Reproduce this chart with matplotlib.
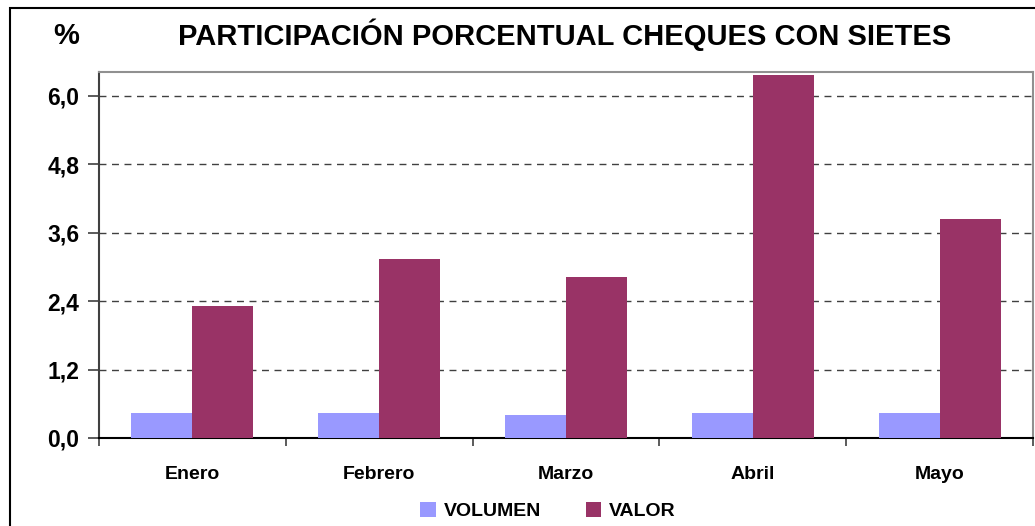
import matplotlib
matplotlib.use("Agg")
import matplotlib.pyplot as plt
import numpy as np
from matplotlib.patches import Rectangle

months = ["Enero", "Febrero", "Marzo", "Abril", "Mayo"]
volumen = [0.44, 0.44, 0.40, 0.44, 0.44]
valor = [2.32, 3.14, 2.83, 6.37, 3.85]
yticks = [0.0, 1.2, 2.4, 3.6, 4.8, 6.0]
ytick_labels = ["0,0", "1,2", "2,4", "3,6", "4,8", "6,0"]

plt.rcParams['font.family'] = ['Liberation Sans', 'DejaVu Sans']

W, H = 1035, 526
fig = plt.figure(figsize=(W / 100, H / 100), dpi=100)
fig.patch.set_facecolor("white")

# outer chart border (cut off on right and bottom)
fig.add_artist(Rectangle((10 / W, -0.1), 1.2, (H - 8) / H + 0.1, transform=fig.transFigure,
                         fill=False, edgecolor="black", linewidth=1.5))

left, right, top, bottom = 99, 1033, 72, 438
ax = fig.add_axes([left / W, (H - bottom) / H, (right - left) / W, (bottom - top) / H])

x = np.arange(len(months))
bw = 0.327
ax.bar(x - bw / 2, volumen, width=bw, color="#9999FF", label="VOLUMEN", zorder=3)
ax.bar(x + bw / 2, valor, width=bw, color="#993366", label="VALOR", zorder=3)

ax.set_xlim(-0.5, len(months) - 0.5)
ax.set_ylim(0, 6.42)
ax.set_yticks(yticks)
ax.set_yticklabels(ytick_labels, fontsize=16.5, fontweight="bold")
ax.set_xticks(x)
ax.set_xticklabels(months, fontsize=14, fontweight="bold")
ax.tick_params(axis="x", length=0, pad=20)
ax.set_xticks(np.arange(-0.5, len(months)), minor=True)
ax.tick_params(axis="x", which="minor", length=6, color="#404040", width=1.2)
ax.tick_params(axis="y", length=8, color="#404040", width=1.2, pad=6)

for yv in yticks[1:]:
    ax.axhline(yv, color="#404040", linestyle=(0, (5, 4)), linewidth=1, zorder=1)

for s in ["top", "right"]:
    ax.spines[s].set_color("#909090")
    ax.spines[s].set_linewidth(1.5)
ax.spines["left"].set_color("#404040")
ax.spines["left"].set_linewidth(1.5)
ax.spines["bottom"].set_color("black")
ax.spines["bottom"].set_linewidth(1.5)

fig.text(565 / W, 1 - 35 / H, "PARTICIPACIÓN PORCENTUAL CHEQUES CON SIETES",
         ha="center", va="center", fontsize=21, fontweight="bold")
fig.text(66 / W, 1 - 36 / H, "%", ha="center", va="center", fontsize=21, fontweight="bold")

leg = fig.legend(loc="center", bbox_to_anchor=(548 / W, 1 - 511 / H), ncol=2, frameon=False,
                 prop={"size": 14, "weight": "bold"}, handlelength=0.8, handleheight=0.8,
                 handletextpad=0.4, columnspacing=2.3)

fig.savefig("out.png", dpi=100)
